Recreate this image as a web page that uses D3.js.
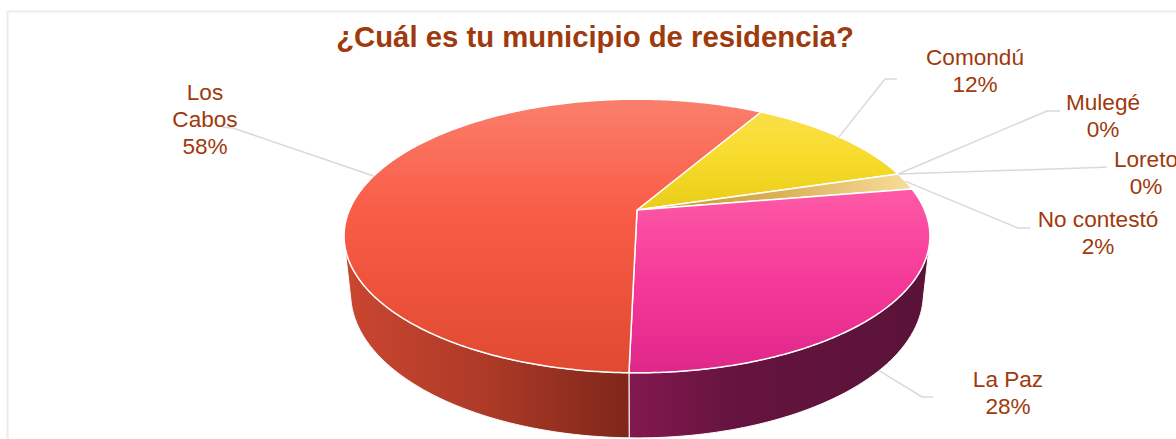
<!DOCTYPE html>
<html><head><meta charset="utf-8">
<script src="https://cdn.jsdelivr.net/npm/d3@7"></script>
<style>html,body{margin:0;padding:0;background:#fff;overflow:hidden}</style>
</head><body>
<svg id="c" width="1176" height="439"></svg>
<script>
// ---- data ----
const title = "¿Cuál es tu municipio de residencia?";
const categories = ["Comondú", "Mulegé", "Loreto", "No contestó", "La Paz", "Los Cabos"];
const values = [12, 0, 0, 2, 28, 58];
const percentLabels = ["12%", "0%", "0%", "2%", "28%", "58%"];

// ---- styles / layout ----
const topColors = {
  "Comondú": [[0, "#fbe152"], [0.22, "#f7db2a"], [0.42, "#e8cc18"], [1, "#d6bb10"]],
  "No contestó": null,
  "La Paz": [[0, "#ff72b3"], [0.35, "#fd58a6"], [0.65, "#f63a99"], [1, "#df278a"]],
  "Los Cabos": [[0, "#fa7f6c"], [0.4, "#f95d47"], [1, "#e14930"]]
};
const sideColors = {
  "Comondú": [[0, "#c9ae12"], [1, "#8a760a"]],
  "No contestó": [[0, "#d6a94a"], [1, "#9a7420"]],
  "La Paz": [[0, "#83184f"], [0.35, "#65143f"], [1, "#5a1238"]],
  "Los Cabos": [[0, "#ca4630"], [0.5, "#ad3a27"], [1, "#7f271a"]]
};
const labelLayout = {
  "Comondú":     {x: 975,  y: 65,  anchor: [897, 79],   elbow: [885, 79]},
  "Mulegé":      {x: 1103, y: 110, anchor: [1060, 111], elbow: [1047, 111]},
  "Loreto":      {x: 1146, y: 167, anchor: [1107, 167], elbow: [1097, 167.5]},
  "No contestó": {x: 1098, y: 227, anchor: [1030, 228], elbow: [1018, 228]},
  "La Paz":      {x: 1008, y: 387, anchor: [933, 397],  elbow: [922, 397]},
  "Los Cabos":   {x: 205,  y: 100, anchor: [222, 127],  elbow: [233, 128], wrap: true}
};
const textColor = "#9e3a0c";
const view = {cx: 637, cy: 210, f: 1346, dist: 4.68, tilt: 27.3 * Math.PI / 180, height: 0.226};
const rotation = 30.1 * Math.PI / 180;

const svg = d3.select("#c");
const defs = svg.append("defs");

// frame
svg.append("line").attr("x1", 7).attr("x2", 1176).attr("y1", 11.5).attr("y2", 11.5)
  .attr("stroke", "#ececec").attr("stroke-width", 2);
svg.append("line").attr("x1", 7.5).attr("x2", 7.5).attr("y1", 11).attr("y2", 439)
  .attr("stroke", "#ececec").attr("stroke-width", 2);

// projection of a point on the pie (theta clockwise from far side, r radius, Y height)
const cT = Math.cos(view.tilt), sT = Math.sin(view.tilt);
function proj(theta, r, Y) {
  const X = r * Math.sin(theta), Z = r * Math.cos(theta);
  const yc = Y * cT + Z * sT;
  const d = view.dist + Z * cT - Y * sT;
  return [view.cx + view.f * X / d, view.cy - view.f * yc / d];
}
function arcPts(a0, a1, Y) {
  const N = Math.max(2, Math.ceil(Math.abs(a1 - a0) / (Math.PI / 360)));
  const pts = [];
  for (let i = 0; i <= N; i++) pts.push(proj(a0 + (a1 - a0) * i / N, 1, Y));
  return pts;
}
const line = d3.line();

const pie = d3.pie().sort(null).value(d => d.v).startAngle(rotation).endAngle(rotation + 2 * Math.PI);
const data = categories.map((c, i) => ({c, v: values[i], p: percentLabels[i]}));
const arcs = pie(data);

const topY = proj(0, 1, 0)[1], nearY = proj(Math.PI, 1, 0)[1];
function grad(id, stops, x1, y1, x2, y2) {
  const g = defs.append("linearGradient").attr("id", id).attr("gradientUnits", "userSpaceOnUse")
    .attr("x1", x1).attr("y1", y1).attr("x2", x2).attr("y2", y2);
  stops.forEach(s => g.append("stop").attr("offset", s[0]).attr("stop-color", s[1]));
  return "url(#" + id + ")";
}

// visible side window
const wa = Math.acos(-1 / (view.dist * cT)), wb = 2 * Math.PI - wa;
const gSide = svg.append("g");
arcs.forEach((a, i) => {
  if (a.endAngle - a.startAngle <= 0) return;
  for (let k = -1; k <= 1; k++) {
    const lo = Math.max(a.startAngle, wa + k * 2 * Math.PI), hi = Math.min(a.endAngle, wb + k * 2 * Math.PI);
    if (hi <= lo) continue;
    const topArc = arcPts(lo, hi, 0), botArc = arcPts(hi, lo, -view.height);
    const pts = topArc.concat(botArc);
    const xs = pts.map(p => p[0]);
    const fill = grad("side" + i + "_" + k, sideColors[a.data.c], d3.min(xs), 0, d3.max(xs), 0);
    gSide.append("path").attr("d", line(pts) + "Z").attr("fill", fill)
      .attr("stroke", "#fff").attr("stroke-width", 1).attr("stroke-linejoin", "round");
  }
});

// top faces
const gTop = svg.append("g");
arcs.forEach((a, i) => {
  if (a.endAngle - a.startAngle <= 0) return;
  const pts = [proj(0, 0, 0)].concat(arcPts(a.startAngle, a.endAngle, 0));
  let fill;
  if (a.data.c === "No contestó") {
    const e = proj((a.startAngle + a.endAngle) / 2, 1, 0);
    fill = grad("top" + i, [[0, "#c4922a"], [0.55, "#dcb25a"], [1, "#f6dc98"]], view.cx, view.cy, e[0], e[1]);
  } else {
    fill = grad("top" + i, topColors[a.data.c], 0, topY, 0, nearY);
  }
  gTop.append("path").attr("d", line(pts) + "Z").attr("fill", fill)
    .attr("stroke", "#fff").attr("stroke-width", 1.5).attr("stroke-linejoin", "round");
});

// leader lines + labels
const gLab = svg.append("g");
arcs.forEach(a => {
  const L = labelLayout[a.data.c];
  const mid = (a.startAngle + a.endAngle) / 2;
  const front = Math.cos(mid) < -1 / (view.dist * cT);
  const p0 = proj(mid, 1, front ? -view.height : 0);
  gLab.append("path").attr("d", line([p0, L.elbow, L.anchor]))
    .attr("fill", "none").attr("stroke", "#d9d9d9").attr("stroke-width", 1.5);
  const lines = (L.wrap ? a.data.c.split(" ") : [a.data.c]).concat([a.data.p]);
  const t = gLab.append("text").attr("x", L.x).attr("y", L.y).attr("text-anchor", "middle")
    .attr("font-family", "'Liberation Sans', Arial, sans-serif").attr("font-size", 22.6).attr("fill", textColor);
  lines.forEach((s, j) => t.append("tspan").attr("x", L.x).attr("dy", j === 0 ? 0 : 27).text(s));
});

// title
svg.append("text").attr("x", 595).attr("y", 47).attr("text-anchor", "middle")
  .attr("font-family", "'Liberation Sans', Arial, sans-serif").attr("font-weight", "bold")
  .attr("font-size", 29.3).attr("fill", textColor).text(title);
</script>
</body></html>
